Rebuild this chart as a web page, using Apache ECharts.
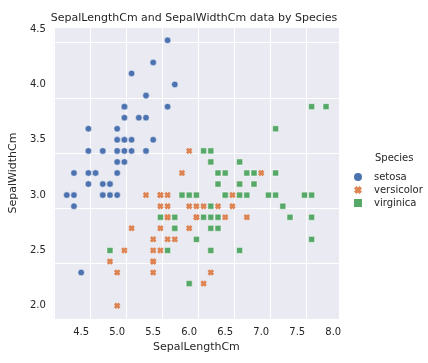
<!DOCTYPE html>
<html><head><meta charset="utf-8">
<script src="https://cdn.jsdelivr.net/npm/echarts@6/dist/echarts.min.js"></script>
<style>html,body{margin:0;padding:0;background:#fff}#c{width:428px;height:363px}</style>
</head><body><div id="c"></div>
<script>
const species = ['setosa','versicolor','virginica'];
const setosaLength = [5.1,4.9,4.7,4.6,5.0,5.4,4.6,5.0,4.4,4.9,5.4,4.8,4.8,4.3,5.8,5.7,5.4,5.1,5.7,5.1,5.4,5.1,4.6,5.1,4.8,5.0,5.0,5.2,5.2,4.7,4.8,5.4,5.2,5.5,4.9,5.0,5.5,4.9,4.4,5.1,5.0,4.5,4.4,5.0,5.1,4.8,5.1,4.6,5.3,5.0];
const setosaWidth  = [3.5,3.0,3.2,3.1,3.6,3.9,3.4,3.4,2.9,3.1,3.7,3.4,3.0,3.0,4.0,4.4,3.9,3.5,3.8,3.8,3.4,3.7,3.6,3.3,3.4,3.0,3.4,3.5,3.4,3.2,3.1,3.4,4.1,4.2,3.1,3.2,3.5,3.1,3.0,3.4,3.5,2.3,3.2,3.5,3.8,3.0,3.8,3.2,3.7,3.3];
const versicolorLength = [7.0,6.4,6.9,5.5,6.5,5.7,6.3,4.9,6.6,5.2,5.0,5.9,6.0,6.1,5.6,6.7,5.6,5.8,6.2,5.6,5.9,6.1,6.3,6.1,6.4,6.6,6.8,6.7,6.0,5.7,5.5,5.5,5.8,6.0,5.4,6.0,6.7,6.3,5.6,5.5,5.5,6.1,5.8,5.0,5.6,5.7,5.7,6.2,5.1,5.7];
const versicolorWidth  = [3.2,3.2,3.1,2.3,2.8,2.8,3.3,2.4,2.9,2.7,2.0,3.0,2.2,2.9,2.9,3.1,3.0,2.7,2.2,2.5,3.2,2.8,2.5,2.8,2.9,3.0,2.8,3.0,2.9,2.6,2.4,2.4,2.7,2.7,3.0,3.4,3.1,2.3,3.0,2.5,2.6,3.0,2.6,2.3,2.7,3.0,2.9,2.9,2.5,2.8];
const virginicaLength = [6.3,5.8,7.1,6.3,6.5,7.6,4.9,7.3,6.7,7.2,6.5,6.4,6.8,5.7,5.8,6.4,6.5,7.7,7.7,6.0,6.9,5.6,7.7,6.3,6.7,7.2,6.2,6.1,6.4,7.2,7.4,7.9,6.4,6.3,6.1,7.7,6.3,6.4,6.0,6.9,6.7,6.9,5.8,6.8,6.7,6.7,6.3,6.5,6.2,5.9];
const virginicaWidth  = [3.3,2.7,3.0,2.9,3.0,3.0,2.5,2.9,2.5,3.6,3.2,2.7,3.0,2.5,2.8,3.2,3.0,3.8,2.6,2.2,3.2,2.8,2.8,2.7,3.3,3.2,2.8,3.0,2.8,3.0,2.8,3.8,2.8,2.8,2.6,3.0,3.4,3.1,3.0,3.1,3.1,3.1,2.7,3.2,3.3,3.0,2.5,3.0,3.4,3.0];
const xTicks = [4.5,5.0,5.5,6.0,6.5,7.0,7.5,8.0];
const yTicks = [2.0,2.5,3.0,3.5,4.0,4.5];

const colors = ['#4c72b0','#dd8452','#55a868'];
const xPath = 'path://M0,3 L3,0 L5,2 L7,0 L10,3 L8,5 L10,7 L7,10 L5,8 L3,10 L0,7 L2,5 Z';
const symbols = ['circle', xPath, 'rect'];
const sizes = [6.5, 6.5, 6];
const lengths = [setosaLength, versicolorLength, virginicaLength];
const widths = [setosaWidth, versicolorWidth, virginicaWidth];
const font = '"DejaVu Sans", sans-serif';
const tc = '#262626';

const chart = echarts.init(document.getElementById('c'), null, {renderer:'canvas'});
chart.setOption({
  animation:false,
  backgroundColor:'#fff',
  title:{text:'SepalLengthCm and SepalWidthCm data by Species', left:189, textAlign:'center', top:8,
    textStyle:{fontFamily:font, fontSize:11, fontWeight:'normal', color:tc}},
  grid:{left:49, right:89, top:27, bottom:44, show:true, backgroundColor:'#eaeaf2', borderWidth:0},
  xAxis:{type:'value', min:4.12, max:8.08, interval:0.5,
    name:'SepalLengthCm', nameLocation:'middle', nameGap:22,
    nameTextStyle:{fontFamily:font, fontSize:11, color:tc},
    axisLine:{show:false}, axisTick:{show:false},
    splitLine:{lineStyle:{color:'#fff', width:1}},
    axisLabel:{fontFamily:font, fontSize:10, color:tc, margin:8,
      customValues: xTicks, formatter:v=>v.toFixed(1)}},
  yAxis:{type:'value', min:1.88, max:4.52, interval:0.5,
    name:'SepalWidthCm', nameLocation:'middle', nameGap:31,
    nameTextStyle:{fontFamily:font, fontSize:11, color:tc},
    axisLine:{show:false}, axisTick:{show:false},
    splitLine:{lineStyle:{color:'#fff', width:1}},
    axisLabel:{fontFamily:font, fontSize:10, color:tc, margin:8,
      customValues: yTicks, formatter:v=>v.toFixed(1)}},
  legend:{orient:'vertical', left:349, top:167, itemGap:3, itemWidth:8, itemHeight:8,
    textStyle:{fontFamily:font, fontSize:10, color:tc, padding:[0,0,0,7]},
    data: species.map((s,i)=>({name:s, icon:symbols[i], itemStyle:{borderWidth:0}}))},
  graphic:[{type:'text', left:375, top:153, style:{text:'Species', font:'10px '+font, fill:tc}}],
  series: species.map((s,i)=>({
    name:s, type:'scatter', symbol:symbols[i], symbolSize:sizes[i],
    itemStyle:{color:colors[i], borderColor:'#fff', borderWidth:i===1?0:0.5, opacity:1},
    data: lengths[i].map((x,j)=>[x, widths[i][j]])
  }))
});
</script></body></html>
